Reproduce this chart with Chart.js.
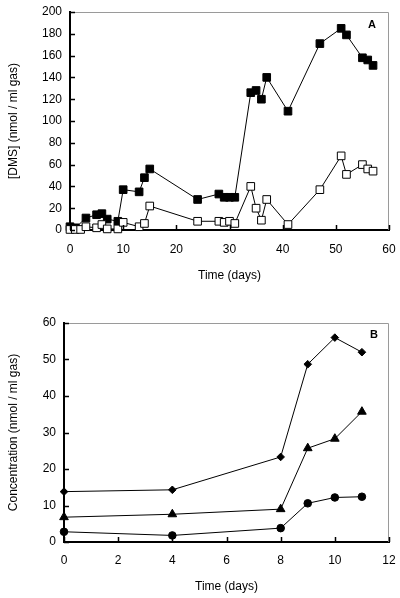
<!DOCTYPE html>
<html>
<head>
<meta charset="utf-8">
<script src="https://cdn.jsdelivr.net/npm/chart.js@4"></script>
<style>
  html, body { margin: 0; padding: 0; background: #fff; }
  #wrapA { position: absolute; left: 0; top: 0; width: 400px; height: 300px; }
  #wrapB { position: absolute; left: 0; top: 300px; width: 400px; height: 298px; }
</style>
</head>
<body>
<div id="wrapA"><canvas id="chartA"></canvas></div>
<div id="wrapB"><canvas id="chartB"></canvas></div>
<script>
// panel A: DMS in the headspace
var daysFilled = [0, 1, 3, 5, 6, 7, 9, 10, 13, 14, 15, 24, 28, 29, 30, 31, 34, 35, 36, 37, 41, 47, 51, 52, 55, 56, 57];
var dmsFilled = [3, 2, 11, 14, 15, 10, 8, 37, 35, 48, 56, 28, 33, 30, 30, 30, 126, 128, 120, 140, 109, 171, 185, 179, 158, 156, 151];
var daysOpen = [0, 1, 2, 3, 5, 6, 7, 9, 10, 13, 14, 15, 24, 28, 29, 30, 31, 34, 35, 36, 37, 41, 47, 51, 52, 55, 56, 57];
var dmsOpen = [0.5, 0.5, 0.5, 3, 2, 5, 1, 1, 7, 3, 6, 22, 8, 8, 7, 8, 6, 40, 20, 9, 28, 5, 37, 68, 51, 60, 56, 54];
var xTicksA = [0, 60, 10];   // min, max, step
var yTicksA = [0, 200, 20];

// panel B: three compounds
var daysB = [0, 4, 8, 9, 10, 11];
var concDiamond = [13.8, 14.3, 23.3, 48.7, 56, 52];
var concTriangle = [6.8, 7.6, 9, 25.7, 28.3, 35.7];
var concCircle = [2.8, 1.8, 3.8, 10.6, 12.2, 12.4];
var xTicksB = [0, 12, 2];
var yTicksB = [0, 60, 10];

var FONT = "'Liberation Sans', Arial, sans-serif";

function pts(xs, ys) {
    return xs.map(function (x, i) { return {x: x, y: ys[i]}; });
}

// inward tick marks, grey top/right frame and the panel letter
function framePlugin(letter, dx, dy) {
    return {
        id: 'frame' + letter,
        afterDraw: function (chart) {
            var ctx = chart.ctx, a = chart.chartArea;
            var xs = chart.scales.x, ys = chart.scales.y;
            ctx.save();
            ctx.strokeStyle = '#9a9a9a';
            ctx.lineWidth = 1;
            ctx.beginPath();
            ctx.moveTo(a.left, a.top + 0.5);
            ctx.lineTo(a.right - 0.5, a.top + 0.5);
            ctx.lineTo(a.right - 0.5, a.bottom);
            ctx.stroke();
            ctx.strokeStyle = '#000';
            ctx.lineWidth = 1.5;
            ctx.beginPath();
            xs.ticks.forEach(function (t) {
                var px = Math.round(xs.getPixelForValue(t.value)) + 0.5;
                ctx.moveTo(px, a.bottom);
                ctx.lineTo(px, a.bottom - 5);
            });
            ys.ticks.forEach(function (t) {
                var py = Math.round(ys.getPixelForValue(t.value)) + 0.5;
                ctx.moveTo(a.left, py);
                ctx.lineTo(a.left + 5, py);
            });
            ctx.stroke();
            ctx.fillStyle = '#000';
            ctx.font = 'bold 11px ' + FONT;
            ctx.textAlign = 'center';
            ctx.textBaseline = 'middle';
            ctx.fillText(letter, a.right - dx, a.top + dy);
            ctx.restore();
        }
    };
}

function makeScales(xt, yt, yWidth, xHeight, yTitle, xLabelPad, xTitlePad) {
    return {
        x: {
            type: 'linear', min: xt[0], max: xt[1],
            grid: {display: false, drawTicks: false},
            border: {color: '#000', width: 2},
            ticks: {stepSize: xt[2], color: '#000', font: {family: FONT, size: 12}, padding: xLabelPad, maxRotation: 0},
            title: {display: true, text: 'Time (days)', color: '#000', font: {family: FONT, size: 12}, padding: {top: 0, bottom: xTitlePad}},
            afterFit: function (s) { s.height = xHeight; s.paddingLeft = 0; s.paddingRight = 0; }
        },
        y: {
            min: yt[0], max: yt[1],
            grid: {display: false, drawTicks: false},
            border: {color: '#000', width: 2},
            ticks: {stepSize: yt[2], color: '#000', font: {family: FONT, size: 12}, padding: 8},
            title: {display: true, text: yTitle, color: '#000', font: {family: FONT, size: 12}, padding: {top: 6, bottom: 0}},
            afterFit: function (s) { s.width = yWidth; s.paddingTop = 0; s.paddingBottom = 0; }
        }
    };
}

var common = {
    responsive: true,
    maintainAspectRatio: false,
    animation: false,
    plugins: {legend: {display: false}, tooltip: {enabled: false}}
};

new Chart(document.getElementById('chartA'), {
    type: 'scatter',
    data: {
        datasets: [
            {
                label: 'filled', data: pts(daysFilled, dmsFilled), showLine: true, order: 1,
                borderColor: '#000', borderWidth: 1, backgroundColor: '#000',
                pointStyle: 'rect', pointRadius: 5.4, pointBorderWidth: 1,
                pointBackgroundColor: '#000', pointBorderColor: '#000', clip: false
            },
            {
                label: 'open', data: pts(daysOpen, dmsOpen), showLine: true, order: 0,
                borderColor: '#000', borderWidth: 1, backgroundColor: '#fff',
                pointStyle: 'rect', pointRadius: 5.4, pointBorderWidth: 1,
                pointBackgroundColor: '#fff', pointBorderColor: '#000', clip: false
            }
        ]
    },
    options: Object.assign({}, common, {
        layout: {padding: {top: 12, right: 11, left: 0, bottom: 0}},
        scales: makeScales(xTicksA, yTicksA, 70, 70, '[DMS] (nmol / ml gas)', 12, 17)
    }),
    plugins: [framePlugin('A', 17, 13)]
});

function seriesB(ys, style, r) {
    return {
        data: pts(daysB, ys), showLine: true,
        borderColor: '#000', borderWidth: 1, backgroundColor: '#000',
        pointStyle: style, pointRadius: r, pointBorderWidth: 1,
        pointBackgroundColor: '#000', pointBorderColor: '#000', clip: false
    };
}

new Chart(document.getElementById('chartB'), {
    type: 'scatter',
    data: {
        datasets: [
            seriesB(concDiamond, 'rectRot', 3.8),
            seriesB(concTriangle, 'triangle', 5),
            seriesB(concCircle, 'circle', 3.8)
        ]
    },
    options: Object.assign({}, common, {
        layout: {padding: {top: 23, right: 11, left: 0, bottom: 0}},
        scales: makeScales(xTicksB, yTicksB, 64, 56, 'Concentration (nmol / ml gas)', 11, 4)
    }),
    plugins: [framePlugin('B', 15, 12)]
});
</script>
</body>
</html>
